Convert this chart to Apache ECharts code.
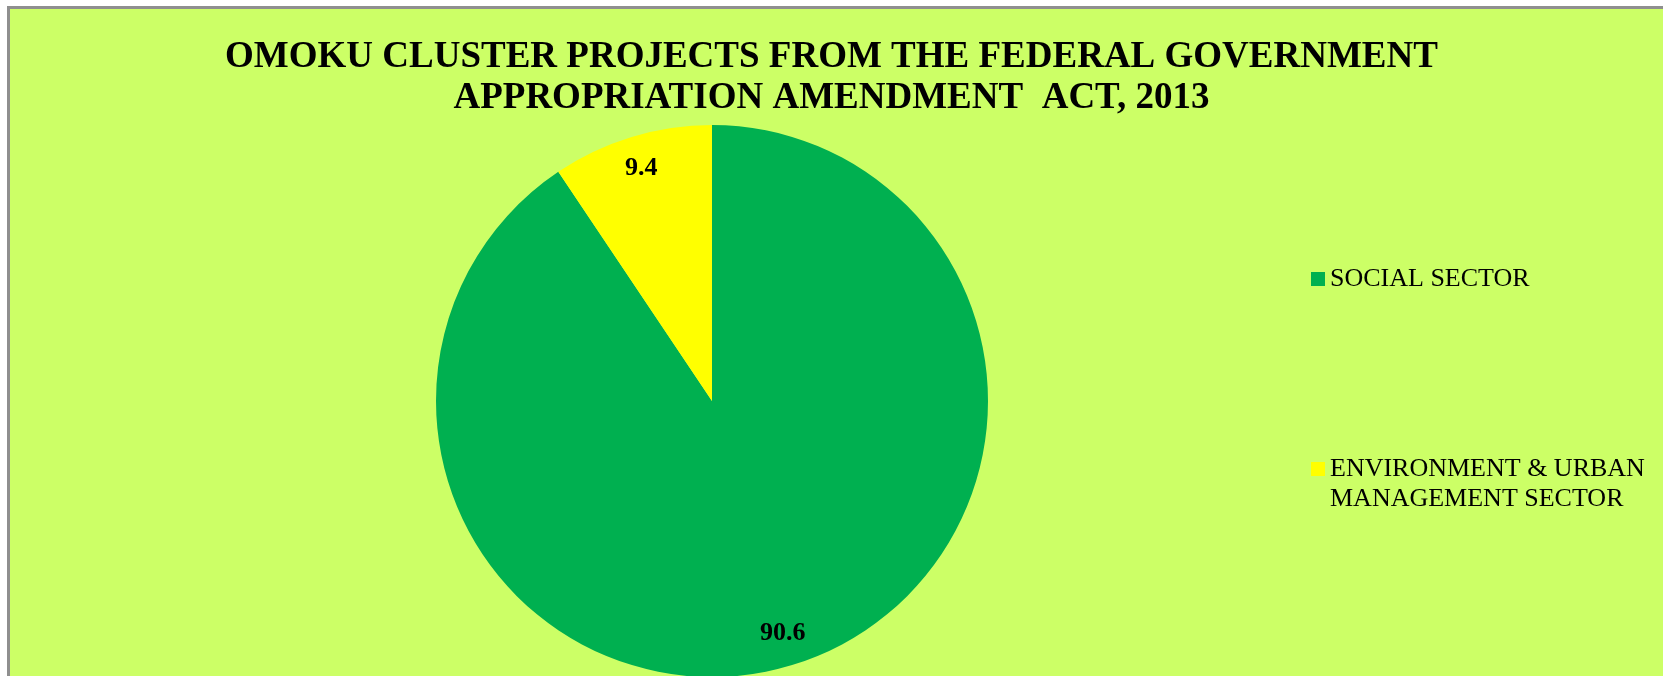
<!DOCTYPE html>
<html>
<head>
<meta charset="utf-8">
<script src="https://cdn.jsdelivr.net/npm/echarts@6/dist/echarts.min.js"></script>
<style>
  html, body { margin: 0; padding: 0; background: #fff; overflow: hidden; }
  #frame {
    position: absolute; left: 7px; top: 6px; width: 1700px; height: 700px;
    background: #ccff66; border-top: 3px solid #8f8f8f; border-left: 3px solid #8f8f8f;
  }
  #chart { position: absolute; left: 0; top: 0; width: 1663px; height: 676px; }
</style>
</head>
<body>
<div id="frame"></div>
<div id="chart"></div>
<script>
// sectors and their share (%)
const sectors = ['SOCIAL SECTOR', 'ENVIRONMENT & URBAN MANAGEMENT SECTOR'];
const shares = [90.6, 9.4];
const colors = ['#00b050', '#ffff00'];

const serif = '"Liberation Serif", "Times New Roman", serif';
const pieCenter = [712, 401];
const pieData = sectors.map((name, i) => ({ name, value: shares[i] }));

const legendText = { fontFamily: serif, fontSize: 26, lineHeight: 30, color: '#000' };

const chart = echarts.init(document.getElementById('chart'));
chart.setOption({
  backgroundColor: 'transparent',
  color: colors,
  title: {
    text: 'OMOKU CLUSTER PROJECTS FROM THE FEDERAL GOVERNMENT\nAPPROPRIATION AMENDMENT  ACT, 2013',
    left: 'center',
    top: 32,
    padding: [5, 0, 5, 10],
    textStyle: {
      fontFamily: serif,
      fontWeight: 'bold',
      fontSize: 37,
      lineHeight: 41,
      color: '#000',
    },
  },
  legend: [
    {
      data: [sectors[0]],
      orient: 'vertical',
      left: 1311,
      top: 264,
      padding: 0,
      icon: 'rect',
      itemWidth: 14,
      itemHeight: 14,
      textStyle: legendText,
    },
    {
      data: [sectors[1]],
      orient: 'vertical',
      left: 1311,
      top: 424,
      padding: 0,
      icon: 'rect',
      itemWidth: 14,
      itemHeight: 14,
      // blank first line keeps the marker level with the first text line
      formatter: () => '\nENVIRONMENT & URBAN\nMANAGEMENT SECTOR',
      textStyle: legendText,
    },
  ],
  series: [
    {
      type: 'pie',
      center: pieCenter,
      radius: 276,
      startAngle: 90,
      clockwise: true,
      label: { show: false },
      labelLine: { show: false },
      emphasis: { scale: false },
      data: pieData,
    },
    {
      // transparent copy, only used to place the value labels further out
      type: 'pie',
      center: pieCenter,
      radius: 480,
      startAngle: 90,
      clockwise: true,
      silent: true,
      itemStyle: { color: 'transparent' },
      label: {
        show: true,
        position: 'inside',
        formatter: (p) => String(p.value),
        fontFamily: serif,
        fontWeight: 'bold',
        fontSize: 26,
        color: '#000',
      },
      labelLine: { show: false },
      data: pieData,
    },
  ],
});
</script>
</body>
</html>
